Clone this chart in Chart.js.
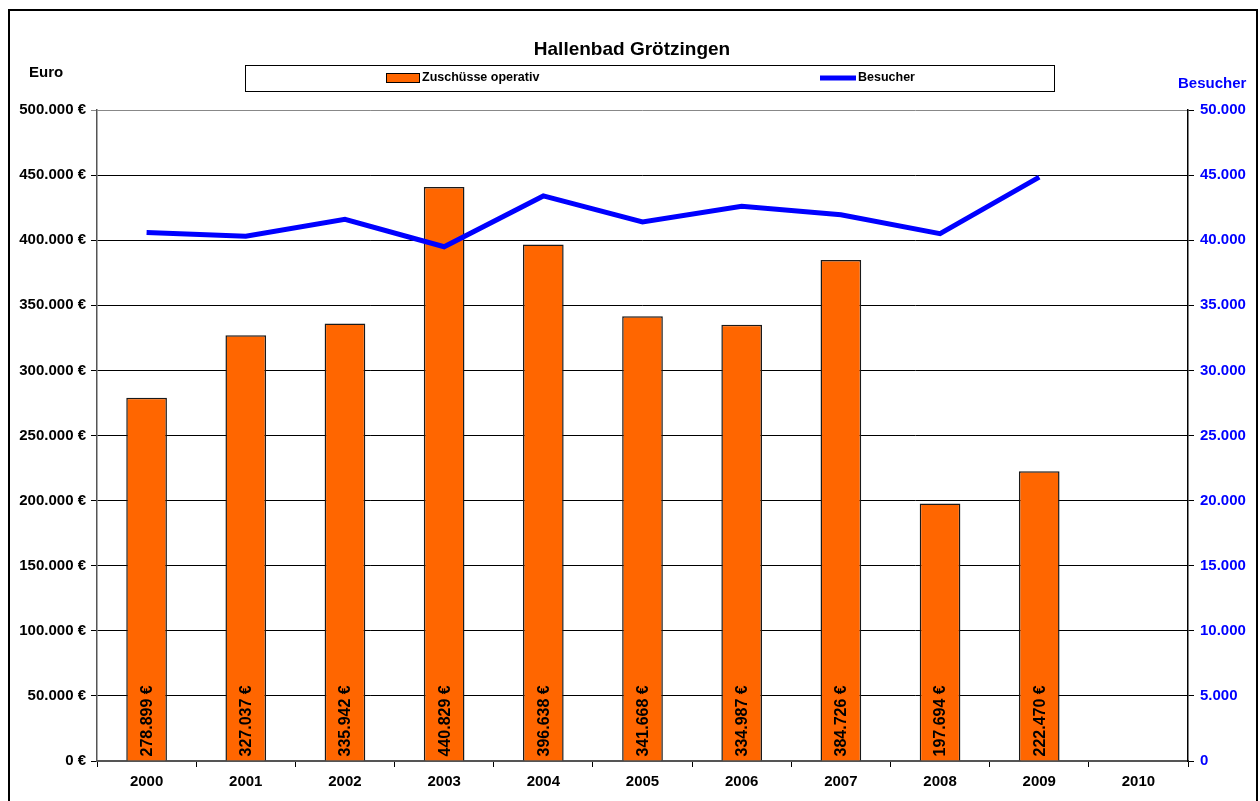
<!DOCTYPE html>
<html>
<head>
<meta charset="utf-8">
<script src="https://cdn.jsdelivr.net/npm/chart.js@4/dist/chart.umd.min.js"></script>
<style>
  html, body { margin: 0; padding: 0; background: #fff; overflow: hidden; }
  #wrap { width: 1260px; height: 801px; position: relative; }
</style>
</head>
<body>
<div id="wrap"><canvas id="chart" width="1260" height="801"></canvas></div>
<script>
const years = ['2000', '2001', '2002', '2003', '2004', '2005', '2006', '2007', '2008', '2009', '2010'];
const zuschuesse = [278899, 327037, 335942, 440829, 396638, 341668, 334987, 384726, 197694, 222470, null];
const besucher = [40600, 40300, 41600, 39500, 43400, 41400, 42600, 41950, 40500, 44850, null];

const FONT = '"Liberation Sans", Arial, sans-serif';
const ORANGE = '#FF6600';
const BLUE = '#0000FF';

// 1234567 -> "1.234.567"
const dots = (v) => String(Math.round(v)).replace(/\B(?=(\d{3})+(?!\d))/g, '.');

const decorations = {
  id: 'decorations',
  beforeDraw(chart) {
    const { ctx } = chart;
    ctx.save();
    ctx.fillStyle = '#fff';
    ctx.fillRect(0, 0, chart.width, chart.height);
    ctx.restore();
  },
  afterDatasetsDraw(chart) {
    const { ctx } = chart;
    const meta = chart.getDatasetMeta(1);
    ctx.save();
    ctx.font = 'bold 16px ' + FONT;
    ctx.fillStyle = '#000';
    ctx.textAlign = 'left';
    ctx.textBaseline = 'middle';
    meta.data.forEach((bar, i) => {
      const v = zuschuesse[i];
      if (v == null) return;
      ctx.save();
      ctx.translate(bar.x + 1, bar.base - 4);
      ctx.rotate(-Math.PI / 2);
      ctx.fillText(dots(v) + ' €', 0, 0);
      ctx.restore();
    });
    ctx.restore();
  },
  afterDraw(chart) {
    const { ctx } = chart;
    ctx.save();
    // outer frame
    ctx.strokeStyle = '#000';
    ctx.lineWidth = 2;
    ctx.strokeRect(9, 10, 1248, 800);

    // title
    ctx.fillStyle = '#000';
    ctx.font = 'bold 19px ' + FONT;
    ctx.textAlign = 'center';
    ctx.textBaseline = 'middle';
    ctx.fillText('Hallenbad Grötzingen', 632, 50);

    // axis titles
    ctx.font = 'bold 15px ' + FONT;
    ctx.textAlign = 'left';
    ctx.fillText('Euro', 29, 73);
    ctx.fillStyle = BLUE;
    ctx.fillText('Besucher', 1178, 84);

    // legend box
    ctx.lineWidth = 1;
    ctx.strokeStyle = '#000';
    ctx.strokeRect(245.5, 65.5, 809, 26);
    ctx.fillStyle = ORANGE;
    ctx.fillRect(387, 74, 32, 8);
    ctx.strokeRect(386.5, 73.5, 33, 9);
    ctx.strokeStyle = BLUE;
    ctx.lineWidth = 5;
    ctx.beginPath();
    ctx.moveTo(820, 78);
    ctx.lineTo(856, 78);
    ctx.stroke();
    ctx.fillStyle = '#000';
    ctx.font = 'bold 12.5px ' + FONT;
    ctx.textBaseline = 'middle';
    ctx.fillText('Zuschüsse operativ', 422, 78);
    ctx.fillText('Besucher', 858, 78);
    ctx.restore();
  }
};

new Chart(document.getElementById('chart'), {
  data: {
    labels: years,
    datasets: [
      {
        type: 'line',
        label: 'Besucher',
        data: besucher,
        yAxisID: 'y2',
        borderColor: BLUE,
        borderWidth: 5,
        pointRadius: 0,
        tension: 0,
        order: 0
      },
      {
        type: 'bar',
        label: 'Zuschüsse operativ',
        data: zuschuesse,
        yAxisID: 'y',
        backgroundColor: ORANGE,
        borderColor: '#1a1a1a',
        borderWidth: 1.5,
        barPercentage: 0.41,
        categoryPercentage: 1,
        order: 1
      }
    ]
  },
  plugins: [decorations],
  options: {
    responsive: false,
    animation: false,
    devicePixelRatio: 1,
    layout: { padding: { top: 110, left: 0, right: 0, bottom: 0 } },
    plugins: { legend: { display: false }, title: { display: false }, tooltip: { enabled: false } },
    scales: {
      x: {
        offset: true,
        afterFit: (s) => { s.height = 40; },
        grid: { offset: true, drawOnChartArea: false, color: '#000', tickLength: 6 },
        border: { color: '#555', width: 2 },
        ticks: { color: '#000', font: { family: FONT, weight: 'bold', size: 15 }, padding: 6 }
      },
      y: {
        position: 'left',
        min: 0,
        max: 500000,
        afterFit: (s) => { s.width = 97; },
        grid: { color: (c) => (c.tick.value === 500000 ? '#888' : '#000'), tickLength: 6 },
        border: { color: '#555', width: 1.5 },
        ticks: {
          stepSize: 50000,
          color: '#000',
          padding: 5,
          font: { family: FONT, weight: 'bold', size: 15 },
          callback: (v) => dots(v) + ' €'
        }
      },
      y2: {
        position: 'right',
        min: 0,
        max: 50000,
        afterFit: (s) => { s.width = 72; },
        grid: { drawOnChartArea: false, color: '#000', tickLength: 6 },
        border: { color: '#000', width: 1.5 },
        ticks: {
          stepSize: 5000,
          color: BLUE,
          padding: 6,
          font: { family: FONT, weight: 'bold', size: 15 },
          callback: (v) => dots(v)
        }
      }
    }
  }
});
</script>
</body>
</html>
